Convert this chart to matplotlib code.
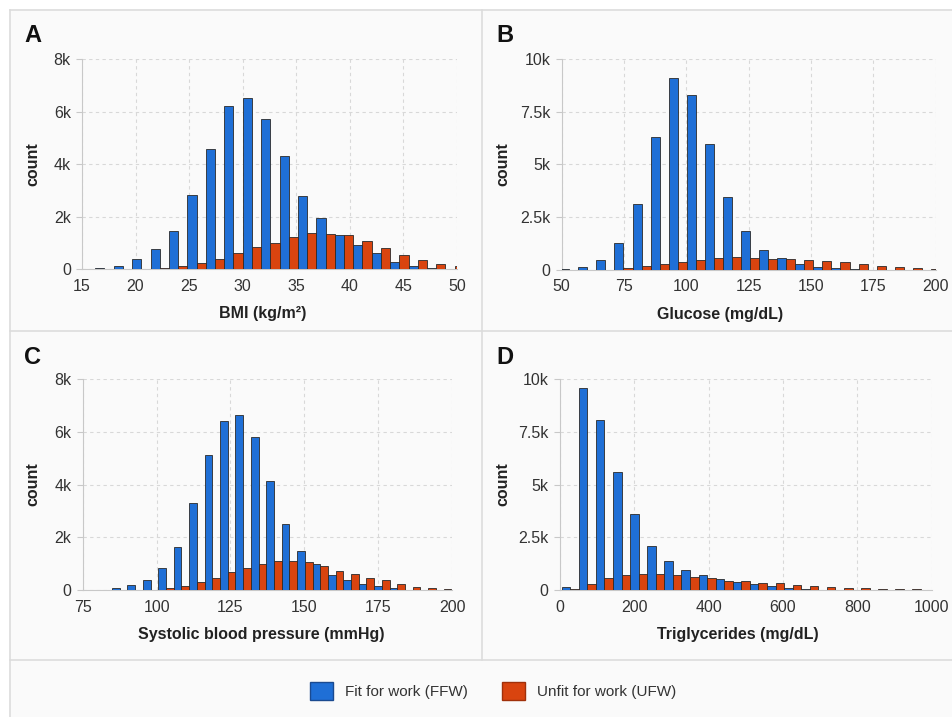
import numpy as np
import matplotlib
matplotlib.use("Agg")
import matplotlib.pyplot as plt
from matplotlib.patches import Patch, Rectangle
from matplotlib.lines import Line2D
from matplotlib.ticker import FuncFormatter

plt.rcParams["font.family"] = ["Liberation Sans", "DejaVu Sans"]

# ---- data (counts per bin) ----
# A: BMI
bmi_start, bmi_step = 16.24, 1.72
bmi_ffw = [20, 100, 370, 760, 1460, 2820, 4580, 6200, 6500, 5730,
           4290, 2770, 1960, 1300, 920, 600, 250, 100, 20, 0]
bmi_ufw = [0, 0, 10, 30, 100, 220, 400, 620, 820, 1010,
           1220, 1370, 1330, 1300, 1050, 800, 540, 330, 190, 100]

# B: Glucose
glu_start, glu_step = 49.4, 7.25
glu_ffw = [20, 140, 460, 1260, 3100, 6300, 9080, 8260, 5960, 3430, 1850,
           950, 550, 270, 140, 80, 20, 0, 0, 0, 0]
glu_ufw = [0, 0, 10, 80, 160, 270, 360, 460, 540, 600, 580,
           520, 490, 460, 410, 350, 270, 190, 130, 80, 50]

# C: Systolic blood pressure
sbp_start, sbp_step = 79.7, 5.22
sbp_ffw = [10, 60, 180, 390, 820, 1630, 3300, 5120, 6420, 6620, 5820, 4150,
           2520, 1470, 1000, 570, 380, 230, 140, 60, 10, 0, 0]
sbp_ufw = [0, 0, 10, 10, 60, 160, 290, 460, 670, 830, 1000, 1110,
           1110, 1070, 920, 720, 600, 470, 370, 210, 130, 80, 30]

# D: Triglycerides
tg_start, tg_step = 5.0, 46.0
tg_ffw = [140, 9590, 8040, 5610, 3590, 2100, 1370, 950, 710, 540, 380,
          280, 200, 100, 50, 20, 0, 0, 0, 0, 0, 0]
tg_ufw = [30, 300, 550, 710, 770, 740, 700, 630, 550, 450, 440,
          350, 310, 250, 200, 140, 110, 80, 50, 30, 30, 20]

BLUE = "#1f6fd6"
RED = "#d9440f"
EDGE = "#2a2a2a"
TXT = "#333333"

panels = [
    # letter, start, step, ffw, ufw, xlim, xticks, ylim, yticks, xlabel, rect, ylab_x, xlab_x
    ("A", bmi_start, bmi_step, bmi_ffw, bmi_ufw, (15, 50), [15, 20, 25, 30, 35, 40, 45, 50],
     8000, [0, 2000, 4000, 6000, 8000], "BMI (kg/m²)",
     [0.0861, 0.6248, 0.3939, 0.2929], -0.112, 0.483),
    ("B", glu_start, glu_step, glu_ffw, glu_ufw, (50, 200), [50, 75, 100, 125, 150, 175, 200],
     10000, [0, 2500, 5000, 7500, 10000], "Glucose (mg/dL)",
     [0.590, 0.6238, 0.393, 0.2942], -0.138, 0.423),
    ("C", sbp_start, sbp_step, sbp_ffw, sbp_ufw, (75, 200), [75, 100, 125, 150, 175, 200],
     8000, [0, 2000, 4000, 6000, 8000], "Systolic blood pressure (mmHg)",
     [0.0869, 0.1771, 0.3879, 0.2943], -0.115, 0.483),
    ("D", tg_start, tg_step, tg_ffw, tg_ufw, (0, 1000), [0, 200, 400, 600, 800, 1000],
     10000, [0, 2500, 5000, 7500, 10000], "Triglycerides (mg/dL)",
     [0.588, 0.1771, 0.3908, 0.2943], -0.134, 0.478),
]


def kfmt(v, pos):
    if v == 0:
        return "0"
    return f"{v / 1000:g}k"


fig = plt.figure(figsize=(9.52, 7.17), dpi=100)
W, H = 952, 717

# panel frame (light grey boxes)
fig.add_artist(Rectangle((10 / W, 0), 1, 1 - 10 / H, transform=fig.transFigure,
                         facecolor="#fafafa", edgecolor="none", zorder=-5))
frame_lines = [
    ((10, 952), (10, 10)),
    ((10, 10), (10, 717)),
    ((482, 482), (10, 660)),
    ((10, 952), (331, 331)),
    ((10, 952), (660, 660)),
]
for xs, ys in frame_lines:
    fig.add_artist(Line2D([x / W for x in xs], [1 - y / H for y in ys],
                          transform=fig.transFigure, color="#dcdcdc", lw=1.2))

letter_pos = {"A": (24, 35), "B": (496, 35), "C": (24, 357), "D": (496, 357)}

for (letter, start, step, ffw, ufw, xlim, xticks, ymax, yticks, xlabel,
     rect, ylab_x, xlab_x) in panels:
    ax = fig.add_axes(rect)
    ax.set_facecolor("none")
    edges = start + step * np.arange(len(ffw))
    half = step / 2
    ax.bar(edges, ffw, width=half, align="edge", color=BLUE,
           edgecolor=EDGE, linewidth=0.6, zorder=3)
    ax.bar(edges + half, ufw, width=half, align="edge", color=RED,
           edgecolor=EDGE, linewidth=0.6, zorder=3)
    ax.set_xlim(*xlim)
    ax.set_ylim(0, ymax)
    ax.set_xticks(xticks)
    ax.set_yticks(yticks)
    ax.yaxis.set_major_formatter(FuncFormatter(kfmt))
    ax.grid(True, linestyle=(0, (3, 3)), color="#d8d8d8", lw=0.8, zorder=0)
    for s in ("top", "right"):
        ax.spines[s].set_visible(False)
    ax.spines["left"].set_color("#c8c8c8")
    ax.spines["bottom"].set_color("#c8c8c8")
    ax.tick_params(axis="x", length=0, pad=7, labelsize=11.5, labelcolor=TXT)
    ax.tick_params(axis="y", length=4, color="#c8c8c8", pad=4, labelsize=11.5, labelcolor=TXT)
    ax.set_xlabel(xlabel, fontsize=11.5, fontweight="bold", color="#222222")
    ax.set_ylabel("count", fontsize=11.5, fontweight="bold", color="#222222")
    ax.xaxis.set_label_coords(xlab_x, -0.176)
    ax.yaxis.set_label_coords(ylab_x, 0.5)
    lx, ly = letter_pos[letter]
    fig.text(lx / W, 1 - ly / H, letter, fontsize=17, fontweight="bold",
             color="#111111", va="center", ha="left")

handles = [
    Patch(facecolor=BLUE, edgecolor="#1a4a90", label="Fit for work (FFW)"),
    Patch(facecolor=RED, edgecolor="#a0300a", label="Unfit for work (UFW)"),
]
fig.legend(handles=handles, loc="center", bbox_to_anchor=(493 / W, 1 - 691 / H),
           ncol=2, frameon=False, fontsize=11, handlelength=1.5, handleheight=1.5,
           columnspacing=2.2, labelcolor=TXT)

fig.savefig("out.png", dpi=100, facecolor="white")
